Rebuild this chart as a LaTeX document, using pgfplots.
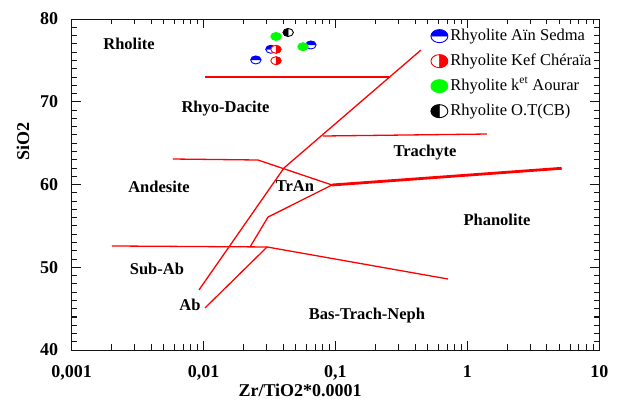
\documentclass[border=0pt]{standalone}
\usepackage{pgfplots}
\pgfplotsset{compat=1.18}
\usepackage{fontspec}
\setmainfont{Liberation Serif}
\definecolor{axk}{rgb}{0.08,0.08,0.08}

% blue: top half filled
\pgfdeclareplotmark{htop}{%
  \fill[white] (0pt,0pt) ellipse [x radius=1.3\pgfplotmarksize, y radius=\pgfplotmarksize];
  \fill[blue] (1.3\pgfplotmarksize,0pt) arc [start angle=0, end angle=180, x radius=1.3\pgfplotmarksize, y radius=\pgfplotmarksize] -- cycle;
  \draw[blue, line width=0.9pt] (0pt,0pt) ellipse [x radius=1.3\pgfplotmarksize, y radius=\pgfplotmarksize];}
% red: right half filled
\pgfdeclareplotmark{hright}{%
  \fill[white] (0pt,0pt) ellipse [x radius=1.3\pgfplotmarksize, y radius=\pgfplotmarksize];
  \fill[red] (0pt,-\pgfplotmarksize) arc [start angle=-90, end angle=90, x radius=1.3\pgfplotmarksize, y radius=\pgfplotmarksize] -- cycle;
  \draw[red, line width=0.9pt] (0pt,0pt) ellipse [x radius=1.3\pgfplotmarksize, y radius=\pgfplotmarksize];}
% black: left half filled
\pgfdeclareplotmark{hleft}{%
  \fill[white] (0pt,0pt) ellipse [x radius=1.3\pgfplotmarksize, y radius=\pgfplotmarksize];
  \fill[black] (0pt,\pgfplotmarksize) arc [start angle=90, end angle=270, x radius=1.3\pgfplotmarksize, y radius=\pgfplotmarksize] -- cycle;
  \draw[black, line width=0.9pt] (0pt,0pt) ellipse [x radius=1.3\pgfplotmarksize, y radius=\pgfplotmarksize];}
% green: full
\pgfdeclareplotmark{hfull}{%
  \filldraw[green, line width=0.9pt] (0pt,0pt) ellipse [x radius=1.3\pgfplotmarksize, y radius=\pgfplotmarksize];}

\begin{document}
\begin{tikzpicture}
\path (-71.7pt,-52pt) rectangle (550.3pt,350pt);
\begin{axis}[
  at={(0pt,0pt)}, anchor=south west,
  xmode=log, scale only axis, width=527.6pt, height=331pt,
  xmin=0.001, xmax=10, ymin=40, ymax=80,
  xtick={0.001,0.01,0.1,1,10},
  xticklabels={{0,001},{0,01},{0,1},1,10},
  minor xtick={0.002,0.003,0.004,0.005,0.006,0.007,0.008,0.009,
               0.02,0.03,0.04,0.05,0.06,0.07,0.08,0.09,
               0.2,0.3,0.4,0.5,0.6,0.7,0.8,0.9,
               2,3,4,5,6,7,8,9},
  ytick={40,50,60,70,80}, yticklabels={40,50,60,70,80},
  minor y tick num=9,
  tick align=inside,
  major tick length=9pt, minor tick length=5.5pt,
  tick style={axk, line width=0.8pt},
  axis line style={axk, line width=0.8pt},
  tick label style={font=\fontsize{18}{20}\selectfont\bfseries},
  xticklabel style={yshift=-12pt},
  yticklabel style={xshift=-10pt},
  xlabel={Zr/TiO2*0.0001}, ylabel={SiO2},
  label style={font=\fontsize{18}{20}\selectfont\bfseries},
  xlabel style={at={(axis description cs:0.433,0)}, anchor=center, yshift=-40pt},
  ylabel style={at={(axis description cs:0,0.631)}, anchor=center, yshift=48.7pt},
  legend style={at={(axis description cs:0.674,0.985)}, anchor=north west,
    draw=none, fill=none, font=\fontsize{16.5}{18}\selectfont,
    row sep=5pt, nodes={inner sep=2pt, text height=12pt, text depth=4pt}},
  legend cell align=left,
]
% boundary lines
\addplot[red, line width=1.3pt, forget plot] coordinates {(0.01025,73) (0.2545,73)};
\addplot[red, line width=1.3pt, forget plot] coordinates {(0.00922,47.25) (0.0407,62.0) (0.4446,76.25)};
\addplot[red, line width=1.3pt, forget plot] coordinates {(0.01025,45.08) (0.0303,52.45)};
\addplot[red, line width=1.3pt, forget plot] coordinates {(0.0225,52.45) (0.0308,56.07) (0.0941,59.94)};
\addplot[red, line width=1.3pt, forget plot] coordinates {(0.00586,63.08) (0.02584,62.96) (0.0941,59.94)};
\addplot[red, line width=1.3pt, forget plot] coordinates {(0.0803,65.86) (1.408,66.1)};
\addplot[red, line width=2.8pt, forget plot] coordinates {(0.0941,59.94) (5.19,61.96)};
\addplot[red, line width=1.3pt, forget plot] coordinates {(0.00202,52.57) (0.0303,52.45)};
\addplot[red, line width=1.3pt, forget plot] coordinates {(0.0303,52.45) (0.713,48.58)};
% samples
\addplot[only marks, mark=htop, mark size=4pt, forget plot] coordinates {(0.0324,76.34) (0.0651,76.86) (0.0249,75.05)};
\addplot[only marks, mark=hright, mark size=4pt, forget plot] coordinates {(0.0354,76.34) (0.0354,74.96)};
\addplot[only marks, mark=hfull, mark size=4pt, forget plot] coordinates {(0.0354,77.89) (0.0567,76.65)};
\addplot[only marks, mark=hleft, mark size=4pt, forget plot] coordinates {(0.0438,78.37)};
% legend
\addlegendimage{only marks, mark=htop, mark size=6.5pt}
\addlegendentry{Rhyolite Aïn Sedma}
\addlegendimage{only marks, mark=hright, mark size=6.5pt}
\addlegendentry{Rhyolite Kef Chéraïa}
\addlegendimage{only marks, mark=hfull, mark size=6.5pt}
\addlegendentry{Rhyolite k\textsuperscript{et} Aourar}
\addlegendimage{only marks, mark=hleft, mark size=6.5pt}
\addlegendentry{Rhyolite O.T(CB)}
% field names
\begin{scope}[every node/.style={font=\fontsize{16.5}{18}\selectfont\bfseries, anchor=base}]
\node at (axis cs:0.00272,76.31) {Rholite};
\node at (axis cs:0.01466,68.70) {Rhyo-Dacite};
\node at (axis cs:0.477,63.38) {Trachyte};
\node at (axis cs:0.00459,59.03) {Andesite};
\node at (axis cs:0.0493,59.15) {TrAn};
\node at (axis cs:1.677,55.05) {Phanolite};
\node at (axis cs:0.00443,49.12) {Sub-Ab};
\node at (axis cs:0.00789,44.83) {Ab};
\node at (axis cs:0.1734,43.63) {Bas-Trach-Neph};
\end{scope}
\end{axis}
% axis frame and inward ticks, as thin filled bars at the axis' own tick places
\fill[axk] (-0.4pt,-0.4pt) rectangle (528pt,0.4pt);
\fill[axk] (-0.4pt,330.6pt) rectangle (528pt,331.4pt);
\fill[axk] (-0.4pt,-0.4pt) rectangle (0.4pt,331.4pt);
\fill[axk] (527.2pt,-0.4pt) rectangle (528pt,331.4pt);
\foreach \d in {0,...,4}{
  \pgfmathsetmacro{\xa}{\d*131.9-0.4}
  \pgfmathsetmacro{\xb}{\d*131.9+0.4}
  \fill[axk] (\xa pt,0pt) rectangle (\xb pt,9pt);
  \fill[axk] (\xa pt,322pt) rectangle (\xb pt,331pt);
}
\foreach \d in {0,...,3}{
  \foreach \m in {2,...,9}{
    \pgfmathsetmacro{\xa}{131.9*(\d+ln(\m)/ln(10))-0.4}
    \pgfmathsetmacro{\xb}{\xa+0.8}
    \fill[axk] (\xa pt,0pt) rectangle (\xb pt,5.5pt);
    \fill[axk] (\xa pt,325.5pt) rectangle (\xb pt,331pt);
  }
}
\foreach \i in {1,...,39}{
  \pgfmathsetmacro{\ya}{\i*8.275-0.4}
  \pgfmathsetmacro{\yb}{\ya+0.8}
  \pgfmathsetmacro{\tl}{ifthenelse(mod(\i,10)==0,9,5.5)}
  \pgfmathsetmacro{\tr}{527.6-\tl}
  \fill[axk] (0pt,\ya pt) rectangle (\tl pt,\yb pt);
  \fill[axk] (\tr pt,\ya pt) rectangle (527.6pt,\yb pt);
}
\end{tikzpicture}
\end{document}
